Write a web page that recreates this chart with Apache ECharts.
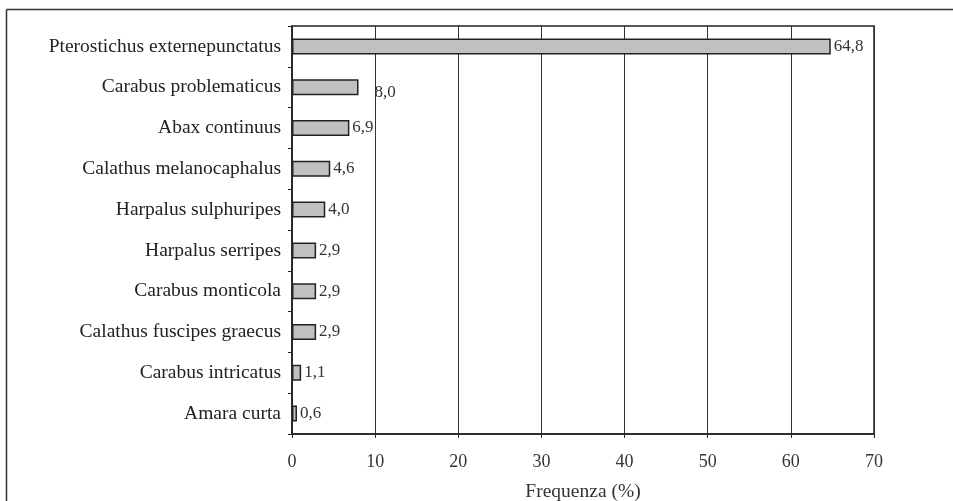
<!DOCTYPE html>
<html>
<head>
<meta charset="utf-8">
<script src="https://cdn.jsdelivr.net/npm/echarts@6/dist/echarts.min.js"></script>
<style>html,body{margin:0;padding:0;background:#fff;}#c{width:953px;height:501px;}</style>
</head>
<body>
<div id="c"></div>
<script>
const categories = ["Pterostichus externepunctatus","Carabus problematicus","Abax continuus","Calathus melanocaphalus","Harpalus sulphuripes","Harpalus serripes","Carabus monticola","Calathus fuscipes graecus","Carabus intricatus","Amara curta"];
const values = [64.8, 8.0, 6.9, 4.6, 4.0, 2.9, 2.9, 2.9, 1.1, 0.6];
const xTicks = [0,10,20,30,40,50,60,70];
const axisTitle = "Frequenza (%)";

const font = "'Liberation Serif', 'DejaVu Serif', serif";
const seriesData = values.map((v,i)=> i===1 ? {value:v,label:{offset:[13,5]}} : v);
const chart = echarts.init(document.getElementById('c'), null, {renderer:'canvas'});
chart.setOption({
  animation:false,
  backgroundColor:'#fff',
  textStyle:{fontFamily:font},
  grid:{left:292,right:79,top:26,bottom:67,show:true,borderColor:'#222',borderWidth:1.5,containLabel:false,outerBoundsMode:'none'},
  xAxis:{
    type:'value',min:xTicks[0],max:xTicks[xTicks.length-1],interval:10,
    name:axisTitle,nameLocation:'middle',nameGap:48,
    nameTextStyle:{fontFamily:font,fontSize:19.5,color:'#333'},
    axisLine:{show:true,lineStyle:{color:'#222',width:1.5}},
    axisTick:{show:true,length:4,inside:false,lineStyle:{color:'#222'}},
    axisLabel:{fontFamily:font,fontSize:18,color:'#333',margin:19,formatter:v=>String(v)},
    splitLine:{show:true,lineStyle:{color:'#333',width:1}}
  },
  yAxis:{
    type:'category',data:categories,inverse:true,
    axisLine:{show:true,lineStyle:{color:'#222',width:1.5}},
    axisTick:{show:true,length:4,lineStyle:{color:'#222'}},
    axisLabel:{fontFamily:font,fontSize:19.5,color:'#222',margin:11}
  },
  series:[{
    type:'bar',data:seriesData,barWidth:16,
    itemStyle:{color:'#c0c0c0',borderColor:'#222',borderWidth:1.5},
    label:{show:true,position:'right',distance:3,fontFamily:font,fontSize:17,color:'#333',
      formatter:p=>p.value.toFixed(1).replace('.',',')}
  }],
  graphic:[
    {type:'line',shape:{x1:6.5,y1:9.5,x2:953,y2:9.5},style:{stroke:'#333',lineWidth:1.5},silent:true},
    {type:'line',shape:{x1:6.5,y1:9.5,x2:6.5,y2:501},style:{stroke:'#333',lineWidth:1.5},silent:true}
  ]
});
</script>
</body>
</html>
